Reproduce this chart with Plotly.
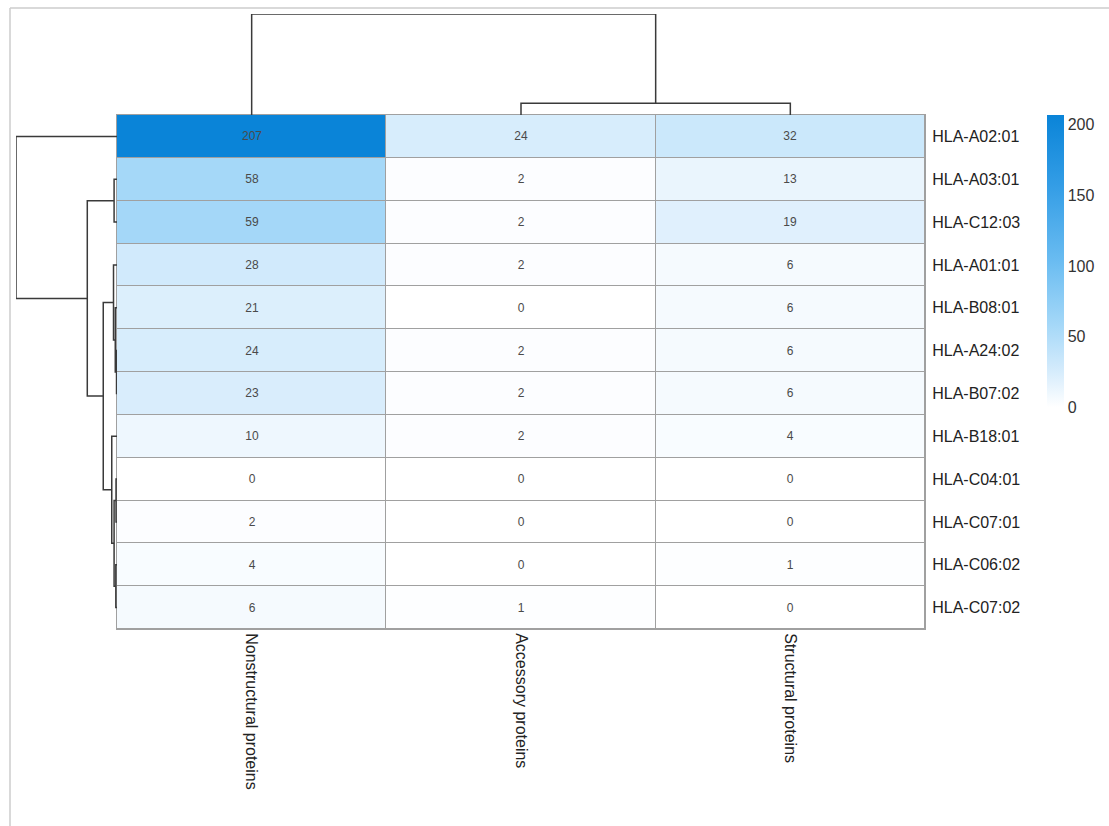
import numpy as np
import plotly.graph_objects as go

# ---------------- data ----------------
rows = ["HLA-A02:01", "HLA-A03:01", "HLA-C12:03", "HLA-A01:01", "HLA-B08:01",
        "HLA-A24:02", "HLA-B07:02", "HLA-B18:01", "HLA-C04:01", "HLA-C07:01",
        "HLA-C06:02", "HLA-C07:02"]
cols = ["Nonstructural proteins", "Accessory proteins", "Structural proteins"]
nonstructural = [207, 58, 59, 28, 21, 24, 23, 10, 0, 2, 4, 6]
accessory = [24, 2, 2, 2, 0, 2, 2, 2, 0, 0, 0, 1]
structural = [32, 13, 19, 6, 6, 6, 6, 4, 0, 0, 1, 0]
cbar_ticks = [0, 50, 100, 150, 200]

Z = np.array([nonstructural, accessory, structural], dtype=float).T  # rows x cols

# ---------------- complete-linkage clustering (euclidean) ----------------
def complete_linkage(X):
    n = len(X)
    D = np.sqrt(((X[:, None, :] - X[None, :, :]) ** 2).sum(-1))
    clusters = {i: [i] for i in range(n)}
    merges = []
    nxt = n
    while len(clusters) > 1:
        keys = list(clusters)
        best = None
        for i in range(len(keys)):
            for j in range(i + 1, len(keys)):
                a, b = keys[i], keys[j]
                d = max(D[p, q] for p in clusters[a] for q in clusters[b])
                if best is None or d < best[0] - 1e-12:
                    best = (d, a, b)
        d, a, b = best
        clusters[nxt] = clusters.pop(a) + clusters.pop(b)
        merges.append((a, b, d, nxt))
        nxt += 1
    return merges

def dendro_segments(merges, n):
    pos = {i: float(i) for i in range(n)}
    hgt = {i: 0.0 for i in range(n)}
    xs, ys = [], []
    for a, b, d, k in merges:
        pa, pb = pos[a], pos[b]
        xs += [pa, pa, pb, pb, None]
        ys += [hgt[a], d, d, hgt[b], None]
        pos[k] = (pa + pb) / 2
        hgt[k] = d
    return xs, ys, max(m[2] for m in merges)

row_x, row_h, row_max = dendro_segments(complete_linkage(Z), len(rows))
col_x, col_h, col_max = dendro_segments(complete_linkage(Z.T), len(cols))

# ---------------- figure ----------------
W, H = 1109, 826
hx = [117 / W, 925 / W]
hy = [1 - 629 / H, 1 - 115 / H]

colorscale = [
    [0.0, "#FFFFFF"],
    [0.12, "#D6ECFC"],
    [0.28, "#A5D8F8"],
    [0.5, "#6ABCF1"],
    [0.75, "#359EE6"],
    [1.0, "#0A84D8"],
]

fig = go.Figure()
fig.add_trace(go.Heatmap(
    z=Z, x=list(range(len(cols))), y=list(range(len(rows))),
    colorscale=colorscale, zmin=0, zmax=Z.max(),
    xgap=1, ygap=1,
    text=Z.astype(int), texttemplate="%{text}",
    textfont=dict(size=12, color="#4a4a4a", family="Liberation Sans, Arial"),
    hoverinfo="skip",
    colorbar=dict(
        x=1047 / W, xanchor="left", xpad=0, y=hy[1], yanchor="top",
        len=(407 - 115) / H, lenmode="fraction", thickness=17,
        outlinewidth=0, ypad=0, tickvals=cbar_ticks,
        tickfont=dict(size=16, color="#333333", family="Liberation Sans, Arial"),
        ticks="", ticklabelposition="outside",
    ),
))

# top (column) dendrogram
fig.add_trace(go.Scatter(x=col_x, y=col_h, mode="lines", xaxis="x2", yaxis="y2",
                         line=dict(color="#3a3a3a", width=1.5), hoverinfo="skip",
                         showlegend=False))
# left (row) dendrogram
fig.add_trace(go.Scatter(x=row_h, y=row_x, mode="lines", xaxis="x3", yaxis="y3",
                         line=dict(color="#3a3a3a", width=1.5), hoverinfo="skip",
                         showlegend=False))

lbl_font = dict(size=16, color="#222222", family="Liberation Sans, Arial")
fig.update_layout(
    width=W, height=H, margin=dict(l=0, r=0, t=0, b=0),
    paper_bgcolor="white", plot_bgcolor="white",
    showlegend=False,
    xaxis=dict(domain=hx, range=[-0.5, len(cols) - 0.5], tickvals=list(range(len(cols))),
               ticktext=cols, tickangle=90, tickfont=lbl_font, showgrid=False,
               zeroline=False, showline=True, linecolor="#a0a0a0", mirror=True,
               ticks="", anchor="y"),
    yaxis=dict(domain=hy, range=[len(rows) - 0.5, -0.5], tickvals=list(range(len(rows))),
               ticktext=rows, side="right", tickfont=lbl_font, showgrid=False,
               zeroline=False, showline=True, linecolor="#a0a0a0", mirror=True,
               ticks="outside", ticklen=3, tickcolor="rgba(0,0,0,0)", anchor="x"),
    xaxis2=dict(domain=hx, range=[-0.5, len(cols) - 0.5], visible=False, anchor="y2"),
    yaxis2=dict(domain=[hy[1], 1 - 14 / H], range=[0, col_max], visible=False, anchor="x2"),
    xaxis3=dict(domain=[16 / W, hx[0]], range=[row_max, 0], visible=False, anchor="y3"),
    yaxis3=dict(domain=hy, range=[len(rows) - 0.5, -0.5], visible=False, anchor="x3"),
    shapes=[
        # grey backing behind the heatmap so the cell gaps read as grid borders
        dict(type="rect", xref="x", yref="y", x0=-0.5, x1=len(cols) - 0.5,
             y0=-0.5, y1=len(rows) - 0.5, fillcolor="#a0a0a0", line=dict(width=0),
             layer="below"),
        dict(type="line", xref="paper", yref="paper", x0=10 / W, x1=1, y0=1 - 8 / H, y1=1 - 8 / H,
             line=dict(color="#cccccc", width=1.5)),
        dict(type="line", xref="paper", yref="paper", x0=10 / W, x1=10 / W, y0=0, y1=1 - 8 / H,
             line=dict(color="#cccccc", width=1.5)),
    ],
)

fig.write_html("out.html", config={"displayModeBar": False})
with open("out.html", "r", encoding="utf-8") as f:
    html = f.read()
html = html.replace("<head>", "<head><style>html,body{margin:0;padding:0;overflow:hidden;}</style>", 1)
with open("out.html", "w", encoding="utf-8") as f:
    f.write(html)
